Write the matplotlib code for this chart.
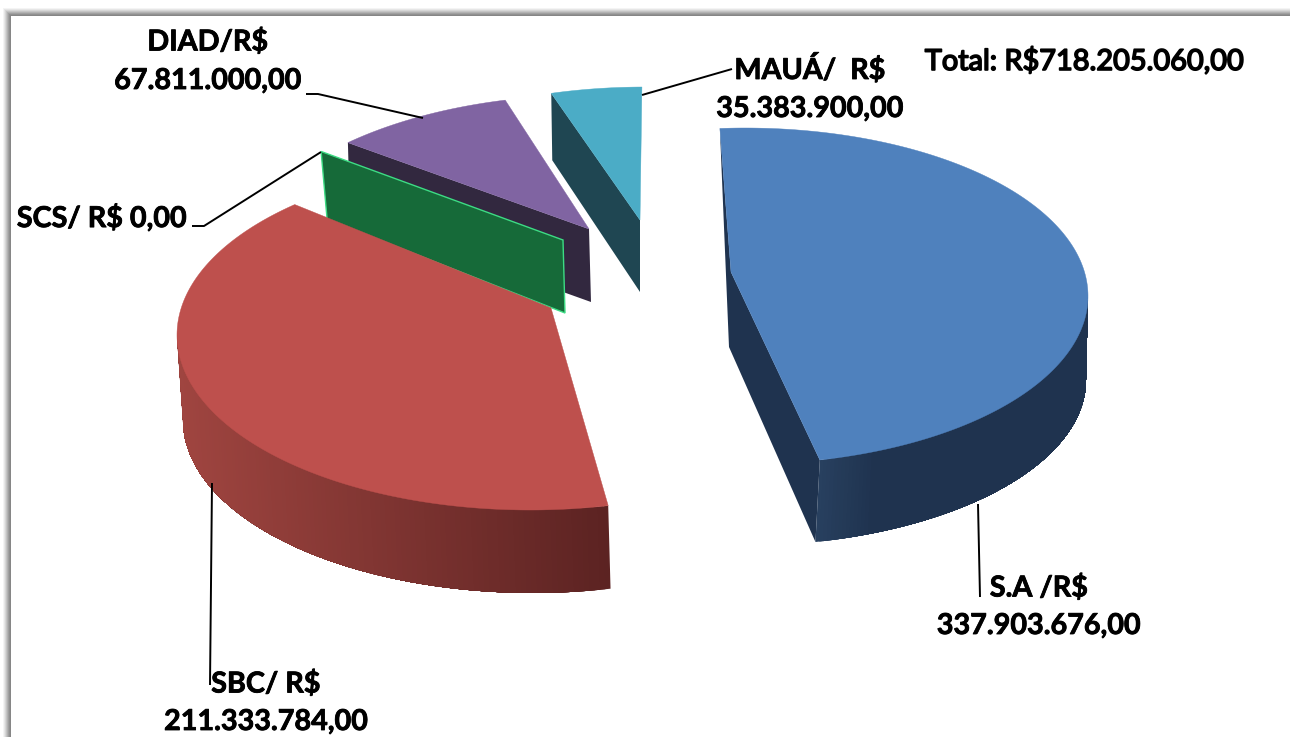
from matplotlib import pyplot as plt
from matplotlib import patheffects as pe
from matplotlib.colors import to_rgb
from matplotlib.patches import Rectangle
import numpy as np

# data
categories = ['S.A', 'SBC', 'SCS', 'DIAD', 'MAUÁ']
amounts = [337903676.00, 211333784.00, 0.00, 67811000.00, 35383900.00]
total_amount = 718205060.00
# angles the slices really cover on the drawing (clockwise from the top)
slice_start_deg = [-4.2, 167.2, 316.3, 316.7, 344.6]
slice_end_deg = [167.4, 318.2, 316.3, 346.1, 359.5]

# look of each slice, same order as categories
top_colors = ['#4F81BD', '#BE504D', '#166A39', '#8064A2', '#4BACC6']
wall_colors = [('#28405F', '#1F334F'), ('#5C2322', '#A04540'),
               ('#166A39', '#166A39'), ('#32283F', '#32283F'),
               ('#1F4652', '#1F4652')]
wall_fade = [5.0, 1.0, None, None, None]
rim_top = [(745, 296, 343, 168), (530, 335, 353, 175), (565, 278, 353, 175),
           (590, 270, 353, 175), (645, 262, 353, 175)]
rim_bottom = [(740, 380, 346, 166), (533, 420, 350, 173), None, None, None]
apex_top = [(731, 272), (551, 308), (563, 240), (589, 229), (640, 220)]
apex_shift = [(-2, 75), (0, 80), (2, 73), (2, 73), (0, 72)]
rim_shift = [(0, 0), (0, 0), (6, 68), (2, 73), (1, 67)]
wall_range = [(167.4, 90), (167.2, 270), None, None, None]
draw_order = [3, 4, 2, 1, 0]

leaders = [[(978, 504), (980, 597)],
           [(212, 483), (210, 685)],
           [(192, 226), (204, 226), (321, 152)],
           [(306, 94), (318, 94), (423, 118)],
           [(642, 95), (732, 69)]]


def money(value):
    text = f'{value:,.2f}'
    return text.replace(',', '#').replace('.', ',').replace('#', '.')


def rim_point(rim, angle):
    cx, cy, rx, ry = rim
    t = np.radians(angle)
    return cx + rx * np.sin(t), cy - ry * np.cos(t)


def draw_frame(ax):
    shades = ['#F4F4F4', '#E6E6E6', '#D6D6D6', '#C4C4C4', '#B2B2B2',
              '#A0A0A0', '#909090', '#868686']
    for i, shade in enumerate(shades):
        ax.add_patch(Rectangle((3 + i, 8 + i), 1400, 900, fc=shade, ec='none'))
    ax.add_patch(Rectangle((11, 16), 1400, 900, fc='white', ec='none'))


def draw_wall_strips(ax, i):
    a0, a1 = wall_range[i]
    steps = np.linspace(a0, a1, 120)
    c0 = np.array(to_rgb(wall_colors[i][0]))
    c1 = np.array(to_rgb(wall_colors[i][1]))
    x0 = rim_point(rim_top[i], a0)[0]
    x1 = rim_point(rim_top[i], a1)[0]
    # every strip runs to the end of the wall, the next one paints over it
    for a in steps[:-1]:
        rest = np.linspace(a, a1, 60)
        top = [rim_point(rim_top[i], b) for b in rest]
        low = [rim_point(rim_bottom[i], b) for b in rest[::-1]]
        mix = (top[0][0] - x0) / (x1 - x0) * wall_fade[i]
        color = c0 + (c1 - c0) * min(mix, 1)
        ax.fill(*zip(*(top + low)), color=color, lw=0)


def draw_slice(ax, i):
    start = rim_point(rim_top[i], slice_start_deg[i])
    apex = apex_top[i]
    apex_low = (apex[0] + apex_shift[i][0], apex[1] + apex_shift[i][1])

    if i == 0:
        end = rim_point(rim_top[i], slice_end_deg[i])
        end_low = rim_point(rim_bottom[i], slice_end_deg[i])
        ax.fill(*zip(start, apex_low, end_low, end, apex),
                color=wall_colors[i][1], lw=0)
    elif i > 1:
        low = (start[0] + rim_shift[i][0], start[1] + rim_shift[i][1])
        edge = '#3DDC84' if i == 2 else 'none'
        ax.fill(*zip(start, apex, apex_low, low),
                fc=wall_colors[i][0], ec=edge, lw=1)

    if wall_range[i] is not None:
        draw_wall_strips(ax, i)

    if slice_end_deg[i] > slice_start_deg[i]:
        angles = np.linspace(slice_start_deg[i], slice_end_deg[i], 200)
        rim = [rim_point(rim_top[i], a) for a in angles]
        ax.fill(*zip(apex, *rim), color=top_colors[i], lw=0.3)


def main():
    fig = plt.figure(figsize=(12.9, 7.37), dpi=100)
    ax = fig.add_axes([0, 0, 1, 1])
    ax.set_xlim(0, 1290)
    ax.set_ylim(737, 0)
    ax.axis('off')
    draw_frame(ax)

    for i in draw_order:
        draw_slice(ax, i)

    for line in leaders:
        ax.plot(*zip(*line), color='black', lw=1.4, solid_capstyle='butt')

    heavy = [pe.withStroke(linewidth=0.6, foreground='black')]
    font = dict(family='Lato', weight='bold', fontsize=20.7, color='black',
                va='center', ha='center', path_effects=heavy)
    ax.text(1039, 588, f'{categories[0]} /R$', **font)
    ax.text(1039, 626, money(amounts[0]), **font)
    ax.text(266, 684, f'{categories[1]}/ R$', **font)
    ax.text(266, 722, money(amounts[1]), **font)
    ax.text(102, 218, f'{categories[2]}/ R$ {money(amounts[2])}', **font)
    ax.text(208, 42, f'{categories[3]}/R$', **font)
    ax.text(208, 81, money(amounts[3]), **font)
    ax.text(810, 69, f'{categories[4]}/  R$', **font)
    ax.text(810, 109, money(amounts[4]), **font)
    ax.text(1084, 61, f'Total: R${money(total_amount)}', family='Lato',
            fontsize=20.8, color='black', va='center', ha='center',
            path_effects=[pe.withStroke(linewidth=1.2, foreground='black')])

    fig.savefig('out.png', dpi=100)


if __name__ == "__main__":
    main()
